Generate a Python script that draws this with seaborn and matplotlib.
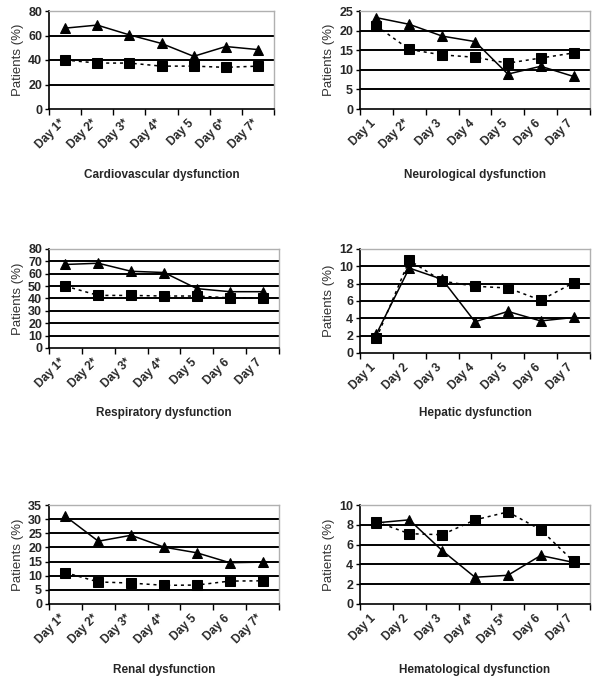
import numpy as np
import pandas as pd
import matplotlib.pyplot as plt
import seaborn as sns
from matplotlib.ticker import FixedLocator, MultipleLocator

# panel data: triangles (solid line) and squares (dotted line)
cardio_days = ["Day 1*", "Day 2*", "Day 3*", "Day 4*", "Day 5", "Day 6*", "Day 7*"]
cardio_tri = [66, 68.5, 60.5, 53.5, 43, 51, 48.5]
cardio_sq = [40, 37.5, 37.5, 35, 35, 34, 35]

neuro_days = ["Day 1", "Day 2*", "Day 3", "Day 4", "Day 5", "Day 6", "Day 7"]
neuro_tri = [23.3, 21.6, 18.6, 17.2, 8.9, 10.9, 8.3]
neuro_sq = [21.2, 15.2, 13.8, 13.2, 11.7, 13.0, 14.3]

resp_days = ["Day 1*", "Day 2*", "Day 3*", "Day 4*", "Day 5", "Day 6", "Day 7"]
resp_tri = [67.5, 68.5, 62, 61, 48, 45.5, 45.5]
resp_sq = [50, 42.5, 42.5, 42, 42, 40.5, 40.5]

hep_days = ["Day 1", "Day 2", "Day 3", "Day 4", "Day 5", "Day 6", "Day 7"]
hep_tri = [2.2, 9.8, 8.5, 3.6, 4.8, 3.7, 4.1]
hep_sq = [1.7, 10.7, 8.3, 7.7, 7.5, 6.1, 8.1]

renal_days = ["Day 1*", "Day 2*", "Day 3*", "Day 4*", "Day 5", "Day 6", "Day 7*"]
renal_tri = [31, 22.2, 24.3, 20.1, 18.1, 14.6, 14.8]
renal_sq = [11.1, 7.8, 7.4, 6.6, 6.7, 8.1, 8.2]

hem_days = ["Day 1", "Day 2", "Day 3", "Day 4*", "Day 5*", "Day 6", "Day 7"]
hem_tri = [8.2, 8.5, 5.4, 2.7, 2.9, 4.9, 4.2]
hem_sq = [8.3, 7.1, 7.0, 8.5, 9.3, 7.5, 4.3]

titles = ["Cardiovascular dysfunction", "Neurological dysfunction",
          "Respiratory dysfunction", "Hepatic dysfunction",
          "Renal dysfunction", "Hematological dysfunction"]

sns.set_style("white")
plt.rcParams['font.family'] = ['Liberation Sans', 'DejaVu Sans']

W, H = 600, 685
fig = plt.figure(figsize=(6, 6.85), dpi=100)

# (left, top, right, bottom) in pixels, ymax, ystep, title y
boxes = [
    (49, 11, 274, 109, 80, 20, 175),
    (360, 11, 590, 109, 25, 5, 175),
    (49, 249, 279, 348, 80, 10, 413),
    (360, 249, 590, 353, 12, 2, 413),
    (49, 505, 279, 604, 35, 5, 670),
    (360, 505, 590, 604, 10, 2, 670),
]
panels = [
    (cardio_days, cardio_tri, cardio_sq),
    (neuro_days, neuro_tri, neuro_sq),
    (resp_days, resp_tri, resp_sq),
    (hep_days, hep_tri, hep_sq),
    (renal_days, renal_tri, renal_sq),
    (hem_days, hem_tri, hem_sq),
]

for (l, t, r, b, ymax, ystep, ty), (days, tri, sq), title in zip(boxes, panels, titles):
    ax = fig.add_axes([l / W, 1 - b / H, (r - l) / W, (b - t) / H])
    pos = np.arange(len(days))
    for y in np.arange(ystep, ymax, ystep):
        ax.axhline(y, color="black", lw=1.4, zorder=0)
    sns.lineplot(x=pos, y=sq, ax=ax, color="black", lw=1.1,
                 linestyle=(0, (2, 2.5)), marker="s", markersize=6.5,
                 markeredgecolor="black")
    sns.lineplot(x=pos, y=tri, ax=ax, color="black", lw=1.1,
                 marker="^", markersize=7.5, markeredgecolor="black")
    ax.set_xlim(-0.5, len(days) - 0.5)
    ax.set_ylim(0, ymax)
    ax.yaxis.set_major_locator(MultipleLocator(ystep))
    # labels sit a little left of the category centre, as in the original
    ax.set_xticks(pos - 0.2)
    ax.set_xticklabels(days, rotation=45, ha="right", rotation_mode="anchor",
                       fontsize=8.5, fontweight="bold")
    ax.xaxis.set_minor_locator(FixedLocator(np.arange(-0.5, len(days), 1.0)))
    ax.tick_params(axis="x", which="major", length=0, pad=6)
    ax.tick_params(axis="x", which="minor", length=4, width=1, color="black",
                   direction="out", bottom=True)
    ax.tick_params(axis="y", length=3, width=1, color="black", pad=2,
                   labelsize=9, left=True)
    for lab in ax.get_yticklabels():
        lab.set_fontweight("bold")
    for side in ["top", "right"]:
        ax.spines[side].set_color("#b0b0b0")
        ax.spines[side].set_linewidth(1)
    for side in ["left", "bottom"]:
        ax.spines[side].set_color("black")
        ax.spines[side].set_linewidth(1.2)
    ax.set_ylabel("Patients (%)", fontsize=9.5, color="#333333", labelpad=3)
    fig.text((l + r) / 2 / W, 1 - ty / H, title, ha="center", va="center",
             fontsize=8.5, fontweight="bold")

fig.savefig("out.png", dpi=100)
